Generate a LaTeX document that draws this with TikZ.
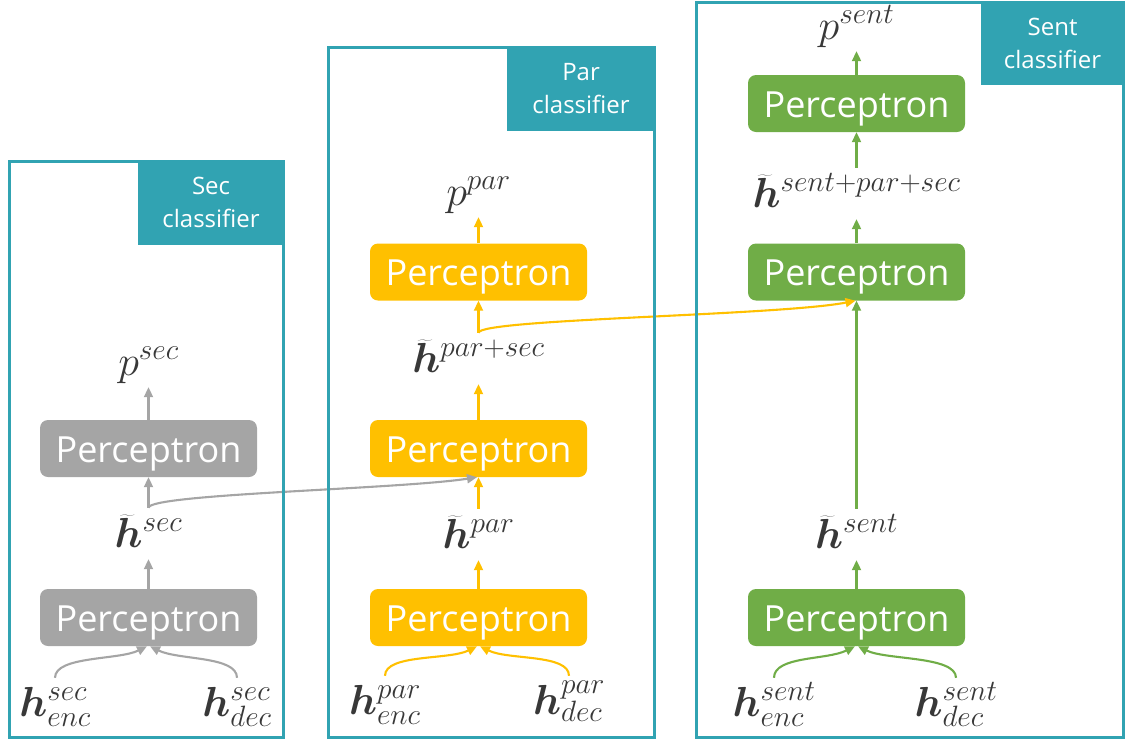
\RequirePackage{fix-cm}
\documentclass[tikz,border=0pt]{standalone}
\usepackage{fontspec}
\usepackage{bm}
\usetikzlibrary{arrows.meta}
\newfontfamily\uifont{Open Sans}
\definecolor{frameteal}{HTML}{31A3B2}
\definecolor{percgray}{HTML}{A5A5A5}
\definecolor{percyellow}{HTML}{FFC000}
\definecolor{percgreen}{HTML}{70AD47}
\definecolor{inktext}{HTML}{383838}
\begin{document}
\begin{tikzpicture}[x=1pt,y=-1pt,
  perc/.style={rounded corners=8pt, minimum width=217pt, minimum height=57pt,
    inner sep=0pt, text=white, text height=27pt, text depth=0pt,
    font=\uifont\fontsize{36}{40}\selectfont},
  vec/.style={inner sep=0pt, anchor=base, text height=39pt, text depth=12pt,
    text=inktext, font=\fontsize{42}{48}\selectfont},
  inp/.style={inner sep=0pt, anchor=base, text height=38pt, text depth=12pt,
    text=inktext, font=\fontsize{42}{48}\selectfont},
  tag/.style={fill=frameteal, text=white, align=center, inner sep=0pt,
    anchor=north east, font=\uifont\fontsize{24}{33}\selectfont},
  frame/.style={draw=frameteal, line width=3pt},
  link/.style={line width=2.1pt, -{Triangle[length=10pt,width=9pt]}}]
\useasboundingbox (0,0) rectangle (1126,740);

% ---- section classifier (gray) ----
\node[perc, fill=percgray] (gpa) at (148.5,617.5) {Perceptron};
\node[perc, fill=percgray] (gpb) at (148.5,448.5) {Perceptron};
\node[inp] (hencsec) at (55,716) {$\bm{h}^{sec}_{enc}$};
\node[inp] (hdecsec) at (237,716) {$\bm{h}^{sec}_{dec}$};
\node[vec] (hsec) at (148.5,547) {$\widetilde{\bm{h}}^{sec}$};
\node[vec] (psec) at (148.5,375) {$p^{sec}$};

% ---- paragraph classifier (yellow) ----
\node[perc, fill=percyellow] (ypa) at (478.5,617.5) {Perceptron};
\node[perc, fill=percyellow] (ypb) at (478.5,448.5) {Perceptron};
\node[perc, fill=percyellow] (ypc) at (478.5,272) {Perceptron};
\node[inp] (hencpar) at (385,714) {$\bm{h}^{par}_{enc}$};
\node[inp] (hdecpar) at (569,714) {$\bm{h}^{par}_{dec}$};
\node[vec] (hpar) at (478.5,548) {$\widetilde{\bm{h}}^{par}$};
\node[vec] (hparsec) at (478.5,372) {$\widetilde{\bm{h}}^{par+sec}$};
\node[vec] (ppar) at (478.5,205) {$p^{par}$};

% ---- sentence classifier (green) ----
\node[perc, fill=percgreen] (gna) at (856.5,617.5) {Perceptron};
\node[perc, fill=percgreen] (gnb) at (856.5,272) {Perceptron};
\node[perc, fill=percgreen] (gnc) at (856.5,103.5) {Perceptron};
\node[inp] (hencsent) at (774,716) {$\bm{h}^{sent}_{enc}$};
\node[inp] (hdecsent) at (956,716) {$\bm{h}^{sent}_{dec}$};
\node[vec] (hsent) at (856.5,548) {$\widetilde{\bm{h}}^{sent}$};
\node[vec] (hall) at (856.5,207) {$\widetilde{\bm{h}}^{sent+par+sec}$};
\node[vec] (psent) at (856.5,39) {$p^{sent}$};

% ---- gray connectors ----
\begin{scope}[draw=percgray]
\draw[link] (hencsec.north) .. controls +(0,-22) and +(-28,14) .. ([xshift=-1.5pt]gpa.south);
\draw[link] (hdecsec.north) .. controls +(0,-22) and +(28,14) .. ([xshift=1.5pt]gpa.south);
\draw[link] (gpa.north) -- (hsec.south);
\draw[link] (hsec.north) -- (gpb.south);
\draw[link] (gpb.north) -- (psec.south);
\draw[link] (hsec.north) .. controls +(0,-14) and +(-77,12) .. ([xshift=-1.5pt]ypb.south);
\end{scope}

% ---- yellow connectors ----
\begin{scope}[draw=percyellow]
\draw[link] (hencpar.north) .. controls +(0,-22) and +(-28,14) .. ([xshift=-1.5pt]ypa.south);
\draw[link] (hdecpar.north) .. controls +(0,-22) and +(28,14) .. ([xshift=1.5pt]ypa.south);
\draw[link] (ypa.north) -- (hpar.south);
\draw[link] (hpar.north) -- (ypb.south);
\draw[link] (ypb.north) -- (hparsec.south);
\draw[link] (hparsec.north) -- (ypc.south);
\draw[link] (ypc.north) -- (ppar.south);
\draw[link] (hparsec.north) .. controls +(0,-14) and +(-77,15) .. ([xshift=-1pt]gnb.south);
\end{scope}

% ---- green connectors ----
\begin{scope}[draw=percgreen]
\draw[link] (hencsent.north) .. controls +(0,-22) and +(-28,14) .. ([xshift=-1.5pt]gna.south);
\draw[link] (hdecsent.north) .. controls +(0,-22) and +(28,14) .. ([xshift=1.5pt]gna.south);
\draw[link] (gna.north) -- (hsent.south);
\draw[link] (hsent.north) -- (gnb.south);
\draw[link] (gnb.north) -- (hall.south);
\draw[link] (hall.north) -- (gnc.south);
\draw[link] (gnc.north) -- (psent.south);
\end{scope}

% ---- classifier frames and their tags ----
\draw[frame] (9,161) rectangle (283,737);
\draw[frame] (328,47) rectangle (654,737);
\draw[frame] (696,2) rectangle (1123,737);
\node[tag, minimum width=146.5pt, minimum height=85.5pt] (tsec) at (284.5,159.5) {Sec\\classifier};
\node[tag, minimum width=148.5pt, minimum height=85.5pt] (tpar) at (655.5,45.5) {Par\\classifier};
\node[tag, minimum width=143.5pt, minimum height=84.5pt] (tsent) at (1124.5,0.5) {Sent\\classifier};
\end{tikzpicture}
\end{document}
